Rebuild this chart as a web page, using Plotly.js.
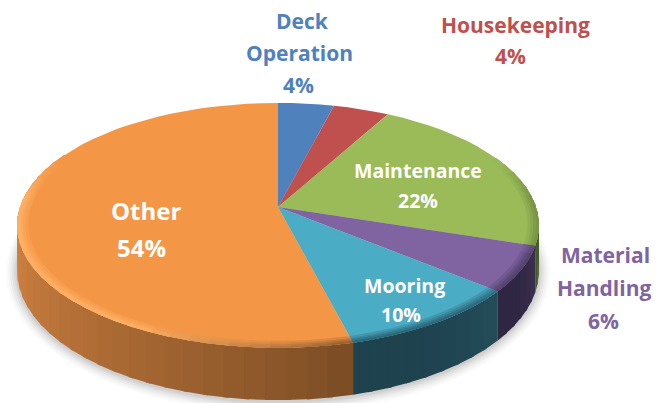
<!DOCTYPE html>
<html><head><meta charset="utf-8">
<script src="https://cdn.plot.ly/plotly-3.0.1.min.js"></script>
<style>html,body{margin:0;padding:0;background:#fff}#c{width:663px;height:403px}</style>
</head><body><div id="c"></div>
<script>
const categories = ["Deck Operation","Housekeeping","Maintenance","Material Handling","Mooring","Other"];
const shares = [4,4,22,6,10,54];
const topColors = [[79,129,189],[192,80,77],[155,187,89],[128,100,162],[75,172,198],[243,150,70]];
const wallNear = [[50,80,120],[120,50,48],[95,115,55],[60,48,80],[36,76,90],[122,76,36]];
const wallFar = [[50,80,120],[120,50,48],[70,90,40],[46,38,66],[30,66,78],[226,140,70]];
const rimNear = [[79,129,189],[192,80,77],[120,150,70],[98,78,125],[50,115,135],[150,95,48]];
const rimFar = [[79,129,189],[192,80,77],[120,150,70],[85,68,110],[45,105,122],[255,176,100]];
const labelLines = [["Deck","Operation"],["Housekeeping"],["Maintenance"],["Material","Handling"],["Mooring"],["Other"]];
const labelX = [[302,299,298],[515,510],[418,418],[605,604,603],[404,401],[146,141]];
const labelY = [21,25,170,255,285,210];
const labelGap = [32,31,30,33,29,37];
const labelSize = [21,21,19.5,21,19.5,24];
const labelColors = ["#4f81bd","#c0504d","#ffffff","#8064a2","#ffffff","#ffffff"];

const CX=278, CY=207, R=258, H=119.7, K=0.15, DEPTH=44.5;
function pt(deg, scale, drop){
  const a=deg*Math.PI/180, u=Math.sin(a)*scale, v=Math.cos(a)*scale, s=1/(1+K*v);
  return [CX+R*u*s, CY-H*v*s+(drop||0)*s];
}
const css=c=>`rgb(${c.map(Math.round).join(",")})`;
const mix=(a,b,t)=>a.map((x,i)=>x+(b[i]-x)*t);
const traces=[];
function poly(points,color,opacity){
  traces.push({type:"scatter",mode:"lines",x:points.map(p=>p[0]),y:points.map(p=>p[1]),
    fill:"toself",fillcolor:color,line:{color:"rgba(0,0,0,0)",width:0},
    opacity:opacity||1,hoverinfo:"skip",showlegend:false});
}
[[11,0.03],[9,0.04],[7,0.05],[5,0.06],[3,0.07],[1.5,0.08]].forEach(([g,o])=>{
  const pts=[];
  for(let d=0;d<=360;d+=4){
    const p=pt(d,1,DEPTH+1), a=d*Math.PI/180;
    pts.push([p[0]+g*Math.sin(a),p[1]-g*Math.cos(a)]);
  }
  poly(pts,"rgb(90,90,90)",o);
});
const bounds=[0]; shares.forEach(v=>bounds.push(bounds[bounds.length-1]+v*3.6));
const STEP=4;
function spans(i){
  const out=[],a0=bounds[i],a1=bounds[i+1];
  const n=Math.max(1,Math.ceil((a1-a0)/STEP));
  for(let k=0;k<n;k++) out.push([a0+(a1-a0)*k/n,a0+(a1-a0)*(k+1)/n,(k+0.5)/n]);
  return out;
}
// side wall: strips overlap the next one so no seams show
shares.forEach((v,i)=>{
  const ss=spans(i);
  ss.slice().reverse().forEach(([a,b,t])=>{
    if(b<80||a>285) return;
    const col=mix(wallNear[i],wallFar[i],Math.min(1,Math.pow(t/0.6,0.85)));
    const e=Math.min(b+1,bounds[i+1]);
    poly([pt(a,1,0),pt(e,1,0),pt(e,1,DEPTH),pt(a,1,DEPTH)],css(col));
  });
});
// top face
shares.forEach((v,i)=>{
  const pts=[[CX,CY]];
  spans(i).forEach(([a,b],k)=>{ if(k===0) pts.push(pt(a,1,0)); pts.push(pt(b,1,0)); });
  pts.push([CX,CY]);
  poly(pts,css(topColors[i]));
});
// bevelled rim, front half only
function rimStrength(d){ return Math.max(0,Math.min(1,(Math.abs(d-180)<95)?1:(115-Math.abs(d-180))/20)); }
[[0.958,0.3],[0.97,0.55],[0.98,0.8],[0.99,1]].forEach(([sc,w])=>{
  shares.forEach((v,i)=>{
    spans(i).forEach(([a,b,t])=>{
      const st=rimStrength((a+b)/2)*w;
      if(st<=0) return;
      const rc=mix(rimNear[i],rimFar[i],Math.min(1,t/0.22));
      const col=mix(topColors[i],rc,st);
      const e=Math.min(b+1,bounds[i+1]);
      poly([pt(a,sc,0),pt(e,sc,0),pt(e,1,0),pt(a,1,0)],css(col));
    });
  });
});
const annotations=[];
shares.forEach((v,i)=>{
  labelLines[i].concat([v+"%"]).forEach((t,k)=>{
    annotations.push({x:labelX[i][k],y:labelY[i]+k*labelGap[i],xref:"x",yref:"y",text:t,showarrow:false,
      xanchor:"center",yanchor:"middle",font:{family:"Open Sans, sans-serif",size:labelSize[i],color:labelColors[i],weight:700}});
  });
});
Plotly.newPlot("c",traces,{
  width:663,height:403,margin:{l:0,r:0,t:0,b:0},paper_bgcolor:"#fff",plot_bgcolor:"#fff",showlegend:false,
  xaxis:{range:[0,663],visible:false,fixedrange:true},
  yaxis:{range:[403,0],visible:false,fixedrange:true},
  annotations
},{displayModeBar:false,staticPlot:true});
</script></body></html>
